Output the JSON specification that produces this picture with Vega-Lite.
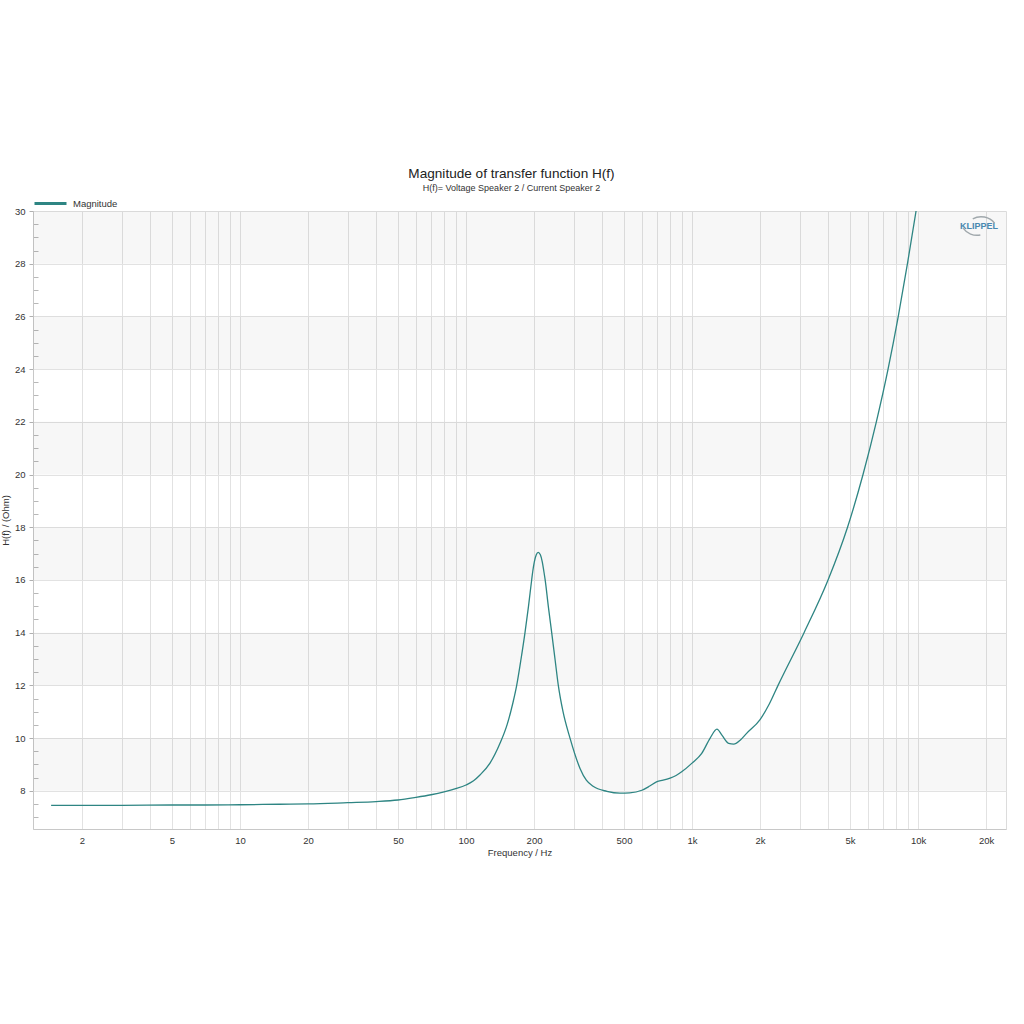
{
  "$schema": "https://vega.github.io/schema/vega-lite/v6.json",
  "width": 973,
  "height": 618,
  "autosize": {"type": "none"},
  "padding": {"left": 33, "top": 211, "right": 18, "bottom": 195},
  "background": "white",
  "title": {
    "text": "Magnitude of transfer function H(f)",
    "subtitle": "H(f)= Voltage Speaker 2 / Current Speaker 2",
    "anchor": "middle",
    "frame": "group",
    "dx": -8,
    "offset": -7,
    "font": "Liberation Sans",
    "fontSize": 13.6,
    "fontWeight": "normal",
    "color": "#222222",
    "subtitleFont": "Liberation Sans",
    "subtitleFontSize": 9,
    "subtitleColor": "#333333",
    "subtitlePadding": 3
  },
  "config": {
    "view": {"stroke": "#dcdcdc", "strokeWidth": 1}
  },
  "resolve": {"axis": {"y": "independent"}},
  "datasets": {
    "curve": [
      {"f": 1.46, "z": 7.45}, {"f": 2, "z": 7.45}, {"f": 3, "z": 7.45}, {"f": 5, "z": 7.46},
      {"f": 7, "z": 7.46}, {"f": 10, "z": 7.47}, {"f": 15, "z": 7.49}, {"f": 20, "z": 7.5},
      {"f": 30, "z": 7.55}, {"f": 40, "z": 7.59}, {"f": 50, "z": 7.65}, {"f": 60, "z": 7.75},
      {"f": 70, "z": 7.85}, {"f": 80, "z": 7.96}, {"f": 90, "z": 8.08}, {"f": 100, "z": 8.22},
      {"f": 108, "z": 8.38}, {"f": 115.3, "z": 8.6}, {"f": 127.7, "z": 9.05}, {"f": 141.4, "z": 9.8},
      {"f": 151.9, "z": 10.5}, {"f": 161.4, "z": 11.35}, {"f": 167.6, "z": 12.0}, {"f": 175.2, "z": 13.0},
      {"f": 182.4, "z": 14.0}, {"f": 189.0, "z": 15.0}, {"f": 195.2, "z": 16.0}, {"f": 197.5, "z": 16.34},
      {"f": 200.5, "z": 16.68}, {"f": 204.6, "z": 16.96}, {"f": 208.6, "z": 17.05}, {"f": 213.3, "z": 16.96},
      {"f": 217.6, "z": 16.68}, {"f": 220.9, "z": 16.34}, {"f": 224.0, "z": 16.0}, {"f": 231.3, "z": 15.0},
      {"f": 239.4, "z": 14.0}, {"f": 247.6, "z": 13.0}, {"f": 256.1, "z": 12.0}, {"f": 268.7, "z": 11.0},
      {"f": 288.5, "z": 10.0}, {"f": 319.5, "z": 8.85}, {"f": 340.7, "z": 8.4}, {"f": 365, "z": 8.17},
      {"f": 420, "z": 7.98}, {"f": 480, "z": 7.91}, {"f": 530, "z": 7.92}, {"f": 600, "z": 8.02},
      {"f": 650, "z": 8.18}, {"f": 700, "z": 8.35}, {"f": 745, "z": 8.4}, {"f": 800, "z": 8.48},
      {"f": 850, "z": 8.58}, {"f": 900, "z": 8.72}, {"f": 1000, "z": 9.05}, {"f": 1104, "z": 9.42},
      {"f": 1203, "z": 10.0}, {"f": 1289, "z": 10.34}, {"f": 1356, "z": 10.11}, {"f": 1452, "z": 9.8},
      {"f": 1530, "z": 9.77}, {"f": 1633, "z": 9.92}, {"f": 1744, "z": 10.18}, {"f": 2000, "z": 10.7},
      {"f": 2200, "z": 11.3}, {"f": 2402, "z": 12.0}, {"f": 3131, "z": 14.0}, {"f": 3998, "z": 16.0},
      {"f": 4876, "z": 18.0}, {"f": 5709, "z": 20.0}, {"f": 6539, "z": 22.0}, {"f": 7368, "z": 24.0},
      {"f": 8176, "z": 26.0}, {"f": 8977, "z": 28.0}, {"f": 9800, "z": 30.0}
    ],
    "bands": [
      {"z": 8, "z2": 10}, {"z": 12, "z2": 14}, {"z": 16, "z2": 18},
      {"z": 20, "z2": 22}, {"z": 24, "z2": 26}, {"z": 28, "z2": 30}
    ],
    "logo": [{"f": 18620, "z": 29.43, "t": "KLIPPEL"}]
  },
  "layer": [
    {
      "data": {"name": "bands"},
      "mark": {"type": "rect", "fill": "#000000", "opacity": 0.03},
      "encoding": {
        "y": {
          "field": "z",
          "type": "quantitative",
          "axis": {
            "orient": "left",
            "title": null,
            "values": [7,7.5,8.5,9,9.5,10.5,11,11.5,12.5,13,13.5,14.5,15,15.5,16.5,17,17.5,18.5,19,19.5,20.5,21,21.5,22.5,23,23.5,24.5,25,25.5,26.5,27,27.5,28.5,29,29.5],
            "labels": false,
            "domain": false,
            "grid": false,
            "ticks": true,
            "tickSize": -5,
            "tickColor": "#b8b8b8"
          }
        },
        "y2": {"field": "z2"}
      }
    },
    {
      "data": {"name": "curve"},
      "mark": {"type": "line", "strokeWidth": 1.3, "clip": true, "interpolate": "monotone"},
      "encoding": {
        "x": {
          "field": "f",
          "type": "quantitative",
          "scale": {"type": "log", "domain": [1.214, 24500], "nice": false},
          "axis": {
            "title": "Frequency / Hz",
            "values": [2,3,4,5,6,7,8,9,10,20,30,40,50,60,70,80,90,100,200,300,400,500,600,700,800,900,1000,2000,3000,4000,5000,6000,7000,8000,9000,10000,20000],
            "labelExpr": "indexof([2,5,10,20,50,100,200,500,1000,2000,5000,10000,20000], datum.value) >= 0 ? (datum.value >= 1000 ? (datum.value / 1000) + 'k' : '' + datum.value) : ''",
            "ticks": false,
            "grid": true,
            "gridColor": "#e2e2e2",
            "gridWidth": 1,
            "domainColor": "#c8c8c8",
            "labelFont": "Liberation Sans",
            "labelFontSize": 9.5,
            "labelColor": "#333333",
            "labelPadding": 6,
            "labelFlush": false,
            "labelOverlap": false,
            "titleFont": "Liberation Sans",
            "titleFontSize": 9.5,
            "titleFontWeight": "normal",
            "titleColor": "#333333",
            "titlePadding": 3
          }
        },
        "y": {
          "field": "z",
          "type": "quantitative",
          "scale": {"domain": [6.55, 30], "nice": false, "zero": false},
          "axis": {
            "orient": "left",
            "title": "H(f) / (Ohm)",
            "values": [8,10,12,14,16,18,20,22,24,26,28,30],
            "grid": true,
            "gridColor": "#e2e2e2",
            "tickSize": 4,
            "tickColor": "#b0b0b0",
            "domainColor": "#c8c8c8",
            "labelFont": "Liberation Sans",
            "labelFontSize": 9.5,
            "labelColor": "#333333",
            "labelPadding": 4,
            "labelFlush": false,
            "labelOverlap": false,
            "titleFont": "Liberation Sans",
            "titleFontSize": 9.5,
            "titleFontWeight": "normal",
            "titleColor": "#333333",
            "titlePadding": 4
          }
        },
        "color": {
          "datum": "Magnitude",
          "type": "nominal",
          "scale": {"range": ["#2e8583"]},
          "legend": {
            "title": null,
            "orient": "none",
            "legendX": 0,
            "legendY": -25,
            "symbolType": "stroke",
            "symbolSize": 1024,
            "symbolStrokeWidth": 3,
            "labelFont": "Liberation Sans",
            "labelFontSize": 9.5,
            "labelColor": "#333333",
            "labelOffset": 5,
            "padding": 0
          }
        }
      }
    },
    {
      "data": {"name": "logo"},
      "mark": {"type": "text", "font": "Liberation Sans", "fontSize": 9, "fontWeight": "bold", "color": "#4a88b0", "align": "center", "baseline": "middle"},
      "encoding": {
        "x": {"field": "f", "type": "quantitative"},
        "y": {"field": "z", "type": "quantitative", "axis": null},
        "text": {"field": "t"}
      }
    },
    {
      "data": {"name": "logo"},
      "mark": {"type": "arc", "theta": -0.5, "theta2": 0.9, "radius": 18, "radius2": 16.6, "color": "#a0a8ac"},
      "encoding": {
        "x": {"datum": 19003, "type": "quantitative"},
        "y": {"datum": 29.127, "type": "quantitative", "axis": null}
      }
    },
    {
      "data": {"name": "logo"},
      "mark": {"type": "arc", "theta": 2.95, "theta2": 4.1, "radius": 18, "radius2": 16.6, "color": "#a0a8ac"},
      "encoding": {
        "x": {"datum": 18240, "type": "quantitative"},
        "y": {"datum": 29.734, "type": "quantitative", "axis": null}
      }
    }
  ]
}
